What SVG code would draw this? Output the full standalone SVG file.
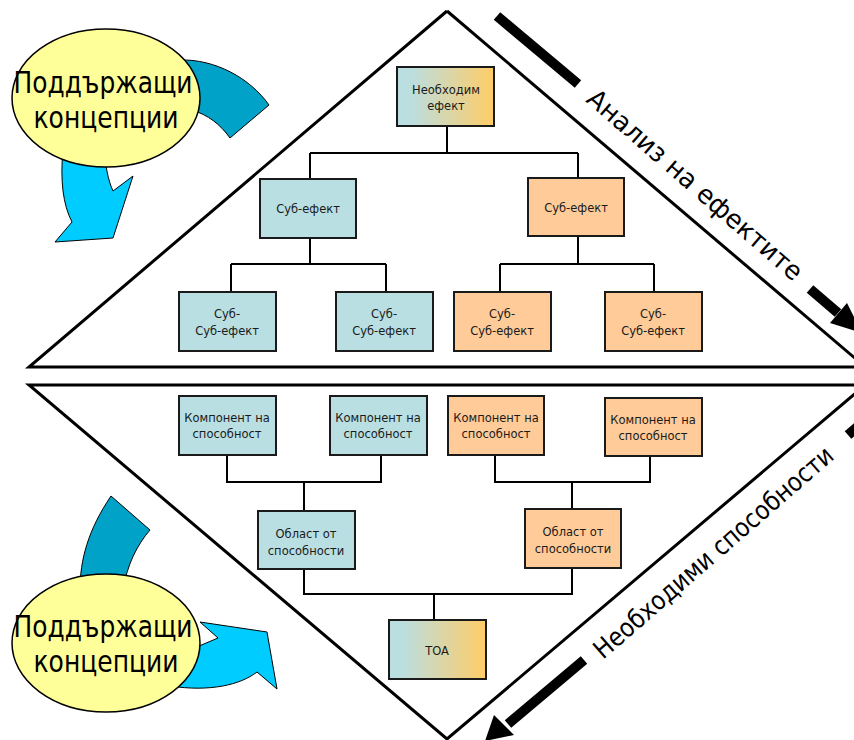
<svg xmlns="http://www.w3.org/2000/svg" width="854" height="740" viewBox="0 0 854 740">
<defs>
<linearGradient id="grad" x1="0" y1="0" x2="1" y2="0">
<stop offset="0" stop-color="#B9DFE2"/>
<stop offset="0.15" stop-color="#BCDEDF"/>
<stop offset="1" stop-color="#FFCC66"/>
</linearGradient>
<style>
.tri{fill:none;stroke:#000;stroke-width:3;stroke-linejoin:miter}
.conn{fill:none;stroke:#000;stroke-width:2}
.box rect{stroke:#1a1a1a;stroke-width:2}
.blue rect{fill:#B9DFE2}
.orange rect{fill:#FFCC99}
.grad rect{fill:url(#grad)}
.box text{font-family:"DejaVu Sans",Verdana,sans-serif;font-size:11.5px;fill:#1a1a1a;text-anchor:middle}
.ell{fill:#FFFF99;stroke:#000;stroke-width:1.5}
.big{font-family:"DejaVu Sans",Verdana,sans-serif;font-size:31px;fill:#000;text-anchor:middle}
.diag{font-family:"DejaVu Sans",Verdana,sans-serif;font-size:26px;fill:#000}
.dark{fill:#00A2C8;stroke:#000;stroke-width:1}
.light{fill:#00CCFF;stroke:#000;stroke-width:1}
.shaft{stroke:#000;stroke-width:10;stroke-linecap:butt}
</style>
</defs>
<g id="frames">
<path class="tri" d="M447,11 L29,367 L870,367"/>
<path class="tri" d="M447,11 L870,371"/>
<path class="tri" d="M870,385 L29,385 L447,739 L870,381"/>
</g>
<g id="direction-arrows">
<line class="shaft" x1="497" y1="16" x2="578" y2="84"/>
<line class="shaft" x1="810" y1="289" x2="838" y2="313"/>
<polygon points="830,323 847,303 862,333" fill="#000"/>
<text class="diag" transform="translate(585,101) rotate(41)" textLength="276" lengthAdjust="spacingAndGlyphs">Анализ на ефектите</text>
<line class="shaft" x1="848" y1="435" x2="862" y2="423"/>
<line class="shaft" x1="584" y1="660" x2="508" y2="724"/>
<polygon points="494,715 514,735 485,741" fill="#000"/>
<text class="diag" transform="translate(603,660) rotate(-41)" textLength="308" lengthAdjust="spacingAndGlyphs">Необходими способности</text>
</g>
<g id="cycle-top">
<path class="dark" d="M180,60 C215,59 250,78 269,105 L230,138 C220,124 208,115 192,110 Z"/>
<path class="light" d="M63,150 C60,180 63,205 72,222 L55,242 L113,238 L133,176 L113,191 C108,180 105,165 105,150 Z"/>
<ellipse class="ell" cx="106" cy="98" rx="94" ry="69"/>
<text class="big" x="103" y="93" textLength="179" lengthAdjust="spacingAndGlyphs">Поддържащи</text>
<text class="big" x="106" y="128" textLength="145" lengthAdjust="spacingAndGlyphs">концепции</text>
</g>
<g id="cycle-bottom">
<path class="dark" d="M80,590 C80,560 88,530 111,496 L150,530 C137,545 127,565 123,590 Z"/>
<path class="light" d="M185,652 L218,638 L200,622 L267,632 L277,689 L257,672 C240,685 210,692 170,686 Z"/>
<ellipse class="ell" cx="106" cy="643" rx="94" ry="69"/>
<text class="big" x="103" y="637" textLength="179" lengthAdjust="spacingAndGlyphs">Поддържащи</text>
<text class="big" x="106" y="672" textLength="145" lengthAdjust="spacingAndGlyphs">концепции</text>
</g>
<g id="connectors">
<path class="conn" d="M447,126 V153 M310,153 H578 M310,153 V179 M578,153 V178"/>
<path class="conn" d="M310,238 V264 M231,264 H386 M231,264 V292 M386,264 V292"/>
<path class="conn" d="M578,236 V264 M500,264 H654 M500,264 V292 M654,264 V292"/>
<path class="conn" d="M227,455 V482 H381 V455 M304,482 V511"/>
<path class="conn" d="M495,455 V482 H650 V456 M572,482 V509"/>
<path class="conn" d="M304,569 V594 H572 V568 M434,594 V620"/>
</g>
<g id="n-necessary-effect" class="box grad"><rect x="397" y="67" width="97" height="59"/><text x="446" y="94">Необходим</text><text x="446" y="110">ефект</text></g>
<g id="n-sub-effect-1" class="box blue"><rect x="260" y="179" width="96" height="59"/><text x="308" y="213">Суб-ефект</text></g>
<g id="n-sub-effect-2" class="box orange"><rect x="528" y="178" width="96" height="58"/><text x="576" y="212">Суб-ефект</text></g>
<g id="n-subsub-1" class="box blue"><rect x="179" y="292" width="97" height="59"/><text x="227" y="318">Суб-</text><text x="227" y="335">Суб-ефект</text></g>
<g id="n-subsub-2" class="box blue"><rect x="336" y="292" width="97" height="59"/><text x="384" y="318">Суб-</text><text x="384" y="335">Суб-ефект</text></g>
<g id="n-subsub-3" class="box orange"><rect x="454" y="292" width="97" height="59"/><text x="502" y="318">Суб-</text><text x="502" y="335">Суб-ефект</text></g>
<g id="n-subsub-4" class="box orange"><rect x="605" y="292" width="97" height="59"/><text x="653" y="318">Суб-</text><text x="653" y="335">Суб-ефект</text></g>
<g id="n-comp-1" class="box blue"><rect x="179" y="396" width="97" height="59"/><text x="227" y="422">Компонент на</text><text x="227" y="438">способност</text></g>
<g id="n-comp-2" class="box blue"><rect x="330" y="396" width="97" height="59"/><text x="378" y="422">Компонент на</text><text x="378" y="438">способност</text></g>
<g id="n-comp-3" class="box orange"><rect x="448" y="396" width="96" height="59"/><text x="496" y="422">Компонент на</text><text x="496" y="438">способност</text></g>
<g id="n-comp-4" class="box orange"><rect x="605" y="398" width="97" height="58"/><text x="653" y="424">Компонент на</text><text x="653" y="440">способност</text></g>
<g id="n-area-1" class="box blue"><rect x="258" y="511" width="97" height="58"/><text x="306" y="538">Област от</text><text x="306" y="555">способности</text></g>
<g id="n-area-2" class="box orange"><rect x="525" y="509" width="96" height="59"/><text x="573" y="536">Област от</text><text x="573" y="553">способности</text></g>
<g id="n-toa" class="box grad"><rect x="389" y="620" width="97" height="59"/><text x="437" y="655">TOA</text></g>
</svg>
